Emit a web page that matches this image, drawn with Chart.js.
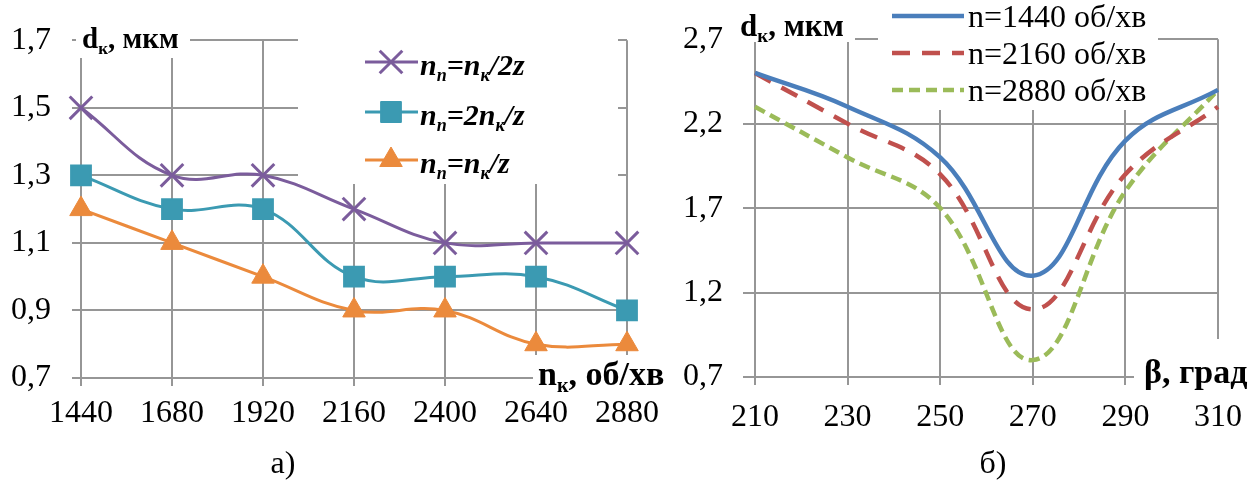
<!DOCTYPE html>
<html><head><meta charset="utf-8">
<script src="https://cdn.jsdelivr.net/npm/chart.js@4/dist/chart.umd.min.js"></script>
<style>
html,body{margin:0;padding:0;background:#fff;width:1255px;height:491px;overflow:hidden}
#ca{position:absolute;left:0;top:0}
#cb{position:absolute;left:680px;top:0}
</style></head><body>
<canvas id="ca" width="680" height="491"></canvas>
<canvas id="cb" width="575" height="491"></canvas>
<script>
// ---- data: chart a) ----
const speedsA = ['1440','1680','1920','2160','2400','2640','2880'];
const seriesHalf = [1.5,1.3,1.3,1.2,1.1,1.1,1.1];   // nп=nк/2z
const seriesDouble = [1.3,1.2,1.2,1.0,1.0,1.0,0.9]; // nп=2nк/z
const seriesSingle = [1.2,1.1,1.0,0.9,0.9,0.8,0.8]; // nп=nк/z
const yTicksA = [0.7,0.9,1.1,1.3,1.5,1.7];
const labelsA = ['nп=nк/2z','nп=2nк/z','nп=nк/z'];
const yTitleA = 'dк, мкм';
const xTitleA = 'nк, об/хв';
const captionA = 'а)';

// ---- data: chart б) ----
const anglesB = [210,230,250,270,290,310];
const d1440 = [2.5,2.3,2.0,1.3,2.1,2.4];
const d2160 = [2.5,2.2,1.9,1.1,1.9,2.3];
const d2880 = [2.3,2.0,1.7,0.8,1.8,2.4];
const yTicksB = [0.7,1.2,1.7,2.2,2.7];
const xTicksB = [210,230,250,270,290,310];
const labelsB = ['n=1440 об/хв','n=2160 об/хв','n=2880 об/хв'];
const yTitleB = 'dк, мкм';
const xTitleB = 'β, град';
const captionB = 'б)';

const SERIF = '"Liberation Serif","Times New Roman",serif';
const GRID = '#969696';
const fmt = v => v.toFixed(1).replace('.', ',');

// draw text where к/п directly after n or d are subscripts
function drawRich(ctx, text, x, y, size, style){
  const parts = [];
  for (let i=0;i<text.length;i++){
    const ch = text[i];
    const sub = (ch==='к'||ch==='п') && i>0 && (text[i-1]==='n'||text[i-1]==='d');
    if (parts.length && parts[parts.length-1].sub===sub) parts[parts.length-1].t += ch;
    else parts.push({t:ch, sub});
  }
  ctx.fillStyle='#000'; ctx.textAlign='left'; ctx.textBaseline='alphabetic';
  let cx = x;
  for (const p of parts){
    ctx.font = style + ' ' + (p.sub ? Math.round(size*0.6) : size) + 'px ' + SERIF;
    ctx.fillText(p.t, cx, y + (p.sub ? size*0.2 : 0));
    cx += ctx.measureText(p.t).width;
  }
}

function gridScale(extra){
  return Object.assign({
    grid:{color:GRID, lineWidth:2, drawTicks:true},
    border:{display:true, color:GRID, width:2},
    ticks:{color:'#000', font:{family:SERIF, size:32}, autoSkip:false, maxRotation:0}
  }, extra);
}

// ---------- chart a) ----------
const overlayA = {
  id:'overlayA',
  afterDraw(chart){
    const ctx = chart.ctx; ctx.save();
    ctx.fillStyle='#fff';
    ctx.fillRect(76,18,114,40);
    ctx.fillRect(298,36,320,148);
    ctx.fillRect(533,355,147,42);
    drawRich(ctx, yTitleA, 82, 48, 29, 'bold');
    drawRich(ctx, xTitleA, 538, 385, 34, 'bold');
    const rows=[62,112,160];
    chart.data.datasets.forEach((ds,i)=>{
      const y=rows[i];
      ctx.strokeStyle=ds.borderColor; ctx.lineWidth=ds.borderWidth;
      ctx.beginPath(); ctx.moveTo(365,y); ctx.lineTo(418,y); ctx.stroke();
      ctx.fillStyle=ds.backgroundColor; ctx.strokeStyle=ds.pointBorderColor||ds.borderColor;
      ctx.lineWidth=ds.pointBorderWidth; ctx.lineJoin='round';
      Chart.helpers.drawPoint(ctx,{pointStyle:ds.pointStyle,radius:ds.pointRadius,rotation:0,borderWidth:ds.pointBorderWidth},391,y);
      drawRich(ctx, ds.label, 420, y+13, 30, 'italic bold');
    });
    ctx.font = '32px '+SERIF; ctx.fillStyle='#000'; ctx.textAlign='center'; ctx.textBaseline='middle';
    ctx.fillText(captionA, 283, 465);
    ctx.restore();
  }
};

new Chart(document.getElementById('ca'), {
  type:'line',
  data:{labels:speedsA, datasets:[
    {label:labelsA[0], data:seriesHalf, borderColor:'#7b5c9c', backgroundColor:'#7b5c9c',
     pointStyle:'crossRot', pointRadius:16, pointBorderWidth:3, borderWidth:3, tension:0.4, clip:false},
    {label:labelsA[1], data:seriesDouble, borderColor:'#3b9ab2', backgroundColor:'#3b9ab2',
     pointStyle:'rect', pointRadius:14, pointBorderWidth:2, borderWidth:3, tension:0.4, clip:false,
     borderJoinStyle:'round'},
    {label:labelsA[2], data:seriesSingle, borderColor:'#eb8a3c', backgroundColor:'#eb8a3c',
     pointStyle:'triangle', pointRadius:13, pointBorderWidth:1, borderWidth:3, tension:0.4, clip:false}
  ]},
  options:{
    responsive:false, animation:false, devicePixelRatio:1,
    layout:{padding:{left:0, top:34, right:53, bottom:0}},
    plugins:{legend:{display:false}, tooltip:{enabled:false}},
    elements:{point:{hoverRadius:0}},
    scales:{
      x: gridScale({type:'category', offset:false,
        grid:{color:GRID, lineWidth:2, drawTicks:true, tickLength:8, offset:false},
        ticks:{color:'#000', font:{family:SERIF, size:32}, autoSkip:false, maxRotation:0, padding:8},
        afterFit(s){ s.height = 113; }}),
      y: gridScale({min:0.7, max:1.7,
        grid:{color:GRID, lineWidth:2, drawTicks:true, tickLength:9},
        ticks:{color:'#000', font:{family:SERIF, size:32}, padding:21, callback:v=>fmt(v)},
        afterBuildTicks(s){ s.ticks = yTicksA.map(v=>({value:v})); },
        afterFit(s){ s.width = 81; }})
    }
  },
  plugins:[overlayA]
});

// ---------- chart б) ----------
const overlayB = {
  id:'overlayB',
  afterDraw(chart){
    const ctx = chart.ctx; ctx.save();
    ctx.fillStyle='#fff';
    ctx.fillRect(55,8,120,34);
    ctx.fillRect(198,0,280,110);
    ctx.fillRect(454,339,121,58);
    drawRich(ctx, yTitleB, 60, 36, 31, 'bold');
    drawRich(ctx, xTitleB, 464, 383, 34, 'bold');
    const rows=[16,53,90];
    chart.data.datasets.forEach((ds,i)=>{
      const y=rows[i];
      ctx.strokeStyle=ds.borderColor; ctx.lineWidth=ds.borderWidth;
      ctx.setLineDash(ds.borderDash||[]);
      ctx.beginPath(); ctx.moveTo(212,y); ctx.lineTo(284,y); ctx.stroke();
      ctx.setLineDash([]);
      drawRich(ctx, ds.label, 288, y+11, 32, 'normal');
    });
    ctx.font = '32px '+SERIF; ctx.fillStyle='#000'; ctx.textAlign='center'; ctx.textBaseline='middle';
    ctx.fillText(captionB, 313, 465);
    ctx.restore();
  }
};

const toXY = arr => anglesB.map((x,i)=>({x, y:arr[i]}));
new Chart(document.getElementById('cb'), {
  type:'line',
  data:{datasets:[
    {label:labelsB[0], data:toXY(d1440), borderColor:'#4a7ebb', borderWidth:4.5, pointRadius:0, tension:0.4, clip:false},
    {label:labelsB[1], data:toXY(d2160), borderColor:'#c0504d', borderWidth:4.5, borderDash:[18,12], pointRadius:0, tension:0.4, clip:false},
    {label:labelsB[2], data:toXY(d2880), borderColor:'#9bbb59', borderWidth:4.5, borderDash:[11,6], pointRadius:0, tension:0.4, clip:false}
  ]},
  options:{
    responsive:false, animation:false, devicePixelRatio:1,
    layout:{padding:{left:0, top:27, right:37, bottom:0}},
    plugins:{legend:{display:false}, tooltip:{enabled:false}},
    scales:{
      x: gridScale({type:'linear', min:210, max:310,
        grid:{color:GRID, lineWidth:2, drawTicks:true, tickLength:8},
        ticks:{color:'#000', font:{family:SERIF, size:32}, autoSkip:false, maxRotation:0, padding:13, callback:v=>String(v)},
        afterBuildTicks(s){ s.ticks = xTicksB.map(v=>({value:v})); },
        afterFit(s){ s.height = 114; }}),
      y: gridScale({min:0.7, max:2.7,
        grid:{color:GRID, lineWidth:2, drawTicks:true, tickLength:12},
        ticks:{color:'#000', font:{family:SERIF, size:32}, padding:20, callback:v=>fmt(v)},
        afterBuildTicks(s){ s.ticks = yTicksB.map(v=>({value:v})); },
        afterFit(s){ s.width = 75; }})
    }
  },
  plugins:[overlayB]
});
</script>
</body></html>
